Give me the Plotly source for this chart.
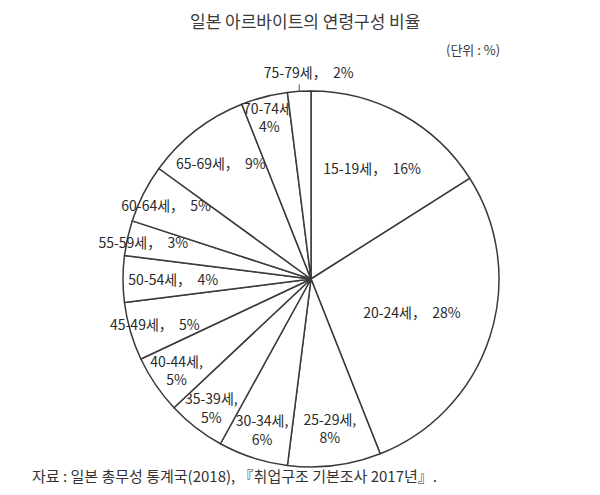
import math
import plotly.graph_objects as go

ages = ["15-19세", "20-24세", "25-29세", "30-34세", "35-39세", "40-44세", "45-49세",
        "50-54세", "55-59세", "60-64세", "65-69세", "70-74세", "75-79세"]
shares = [16, 28, 8, 6, 5, 5, 5, 4, 3, 5, 9, 4, 2]
two_line = {"25-29세", "30-34세", "35-39세", "40-44세", "70-74세"}
outside_label = "75-79세"

NB = "\u00a0"
labels_text = []
for a, v in zip(ages, shares):
    sep = ",<br>" if a in two_line else "，" + NB * 2
    labels_text.append(f"{a}{sep}{v}%")

positions = ["none" if a == outside_label else "inside" for a in ages]

FONT = "Noto Sans CJK KR"
W, H = 600, 495
OFF = 8  # default page body margin


def px_x(x):
    return (x - OFF) / W


def px_y(y):
    return 1 - (y - OFF) / H


cx, cy, r = 311, 279, 188

fig = go.Figure(go.Pie(
    labels=ages,
    values=shares,
    text=labels_text,
    textinfo="text",
    textposition=positions,
    insidetextorientation="horizontal",
    sort=False,
    direction="clockwise",
    rotation=0,
    marker=dict(colors=["white"] * len(ages), line=dict(color="#3a3a3a", width=1.5)),
    textfont=dict(family=FONT, size=14, color="#2a2a2a"),
    showlegend=False,
    hoverinfo="label+percent",
    domain=dict(x=[px_x(cx - r), px_x(cx + r)], y=[px_y(cy + r), px_y(cy - r)]),
))

# leader label for the thin top slice, anchored at its mid-angle on the rim
idx = ages.index(outside_label)
total = sum(shares)
start = sum(shares[:idx]) / total * 360
mid = math.radians(start + shares[idx] / total * 180)
rim_x = cx + r * math.sin(mid)
rim_y = cy - r * math.cos(mid)

fig.update_layout(
    width=W, height=H,
    margin=dict(l=0, r=0, t=0, b=0),
    paper_bgcolor="white",
    plot_bgcolor="white",
    uniformtext=dict(minsize=14, mode="show"),
    annotations=[
        dict(text=NB * 6 + labels_text[idx], x=px_x(rim_x), y=px_y(rim_y), xref="paper", yref="paper",
             showarrow=True, arrowhead=0, arrowwidth=1, arrowcolor="#555555",
             ax=0, ay=-7, xanchor="center", yanchor="bottom",
             font=dict(family=FONT, size=14, color="#2a2a2a")),
        dict(text="일본 아르바이트의 연령구성 비율", x=px_x(305), y=px_y(20), xref="paper", yref="paper",
             showarrow=False, font=dict(family=FONT, size=17, color="#3a3a3a"),
             xanchor="center", yanchor="middle"),
        dict(text="(단위 : %)", x=px_x(502), y=px_y(50), xref="paper", yref="paper",
             showarrow=False, font=dict(family=FONT, size=13, color="#3a3a3a"),
             xanchor="right", yanchor="middle"),
        dict(text="자료 : 일본 총무성 통계국(2018), 『취업구조 기본조사 2017년』.", x=px_x(30), y=px_y(475),
             xref="paper", yref="paper", showarrow=False,
             font=dict(family=FONT, size=15, color="#333333"),
             xanchor="left", yanchor="middle"),
    ],
)

fig.write_html("out.html")
